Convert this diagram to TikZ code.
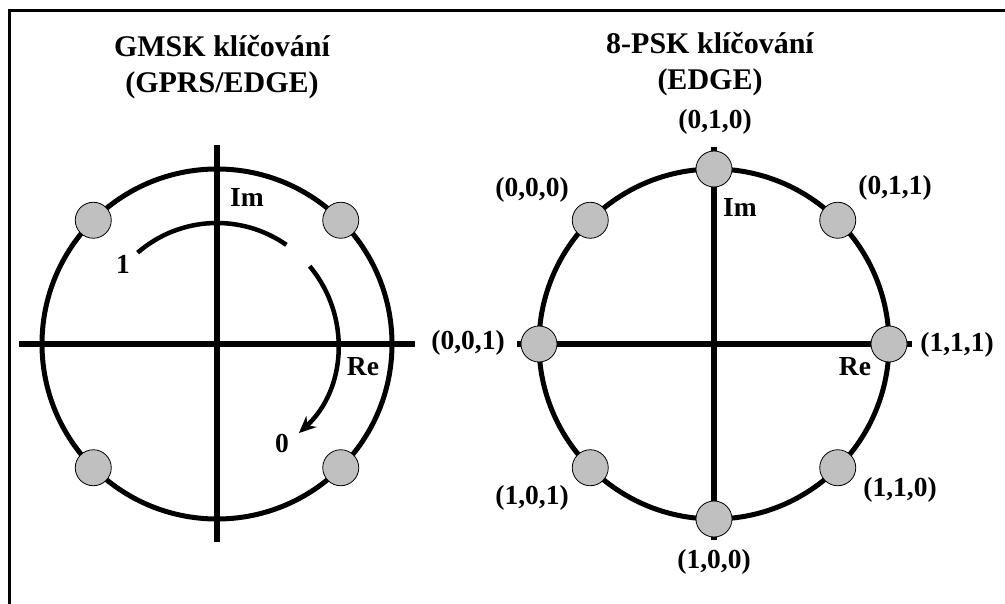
\documentclass[tikz,border=0pt]{standalone}
\usepackage{fontspec}
\setmainfont{Liberation Serif}
\usetikzlibrary{arrows.meta,calc}
\definecolor{dotgray}{RGB}{192,192,192}
\begin{document}
\begin{tikzpicture}[x=1pt,y=-1pt,
  ring/.style={line width=5pt},
  axisline/.style={line width=5.5pt},
  frameline/.style={line width=3pt},
  dot/.style={circle,draw=black,line width=0.8pt,fill=dotgray,minimum size=36pt,inner sep=0pt},
  lbl/.style={font=\bfseries\fontsize{27.5}{27.5}\selectfont,inner sep=0pt},
  ttl/.style={font=\bfseries\fontsize{30}{36}\selectfont,align=center,inner sep=0pt}]
\useasboundingbox (0,0) rectangle (1005,604);
% frame
\coordinate (fb) at (9,610);
\coordinate (ftl) at (9,11);
\coordinate (fr) at (1010,11);
\draw[frameline] (fb) -- (ftl) -- (fr);

% ---------- left diagram ----------
\coordinate (L) at (217,344);
\coordinate (Lw) at (19,344);
\coordinate (Le) at (415,344);
\coordinate (Ln) at (217,145);
\coordinate (Ls) at (217,542);
\node[ttl] (Ltitle) at (222,67) {GMSK klíčování\\(GPRS/EDGE)};
\draw[axisline] (Lw) -- (Le);
\draw[axisline] (Ln) -- (Ls);
\draw[ring] (L) circle[radius=175];
\draw[line width=4.5pt] ($(L)+(-131:121)$) arc[start angle=-131,end angle=-55,radius=121];
\draw[line width=4.5pt,-{Stealth[length=17pt,width=15pt]}] ($(L)+(-40:121)$) arc[start angle=-40,end angle=47.4,radius=121];
\foreach \a/\n in {45/a,135/b,225/c,315/d}
  \node[dot] (L\n) at ($(L)+(\a:175)$) {};
\node[lbl] (Lone) at (123,264) {1};
\node[lbl] (Lzero) at (282,443) {0};
\node[lbl] (Lim) at (247,197) {Im};
\node[lbl] (Lre) at (363,367) {Re};

% ---------- right diagram ----------
\coordinate (R) at (714,344);
\coordinate (Rw) at (517,344);
\coordinate (Re) at (912,344);
\coordinate (Rn) at (714,147);
\coordinate (Rs) at (714,540);
\node[ttl] (Rtitle) at (710,64) {8-PSK klíčování\\(EDGE)};
\draw[axisline] (Rw) -- (Re);
\draw[axisline] (Rn) -- (Rs);
\draw[ring] (R) circle[radius=175];
\foreach \a/\n in {0/e,45/se,90/s,135/sw,180/w,225/nw,270/n,315/ne}
  \node[dot] (R\n) at ($(R)+(\a:175)$) {};
\node[lbl] (l010) at (715,122) {(0,1,0)};
\node[lbl] (l011) at (895,188) {(0,1,1)};
\node[lbl] (l111) at (957,345) {(1,1,1)};
\node[lbl] (l110) at (900,490) {(1,1,0)};
\node[lbl] (l100) at (714,562) {(1,0,0)};
\node[lbl] (l101) at (532,498) {(1,0,1)};
\node[lbl] (l001) at (468,343) {(0,0,1)};
\node[lbl] (l000) at (532,190) {(0,0,0)};
\node[lbl] (Rim) at (740,207) {Im};
\node[lbl] (Rre) at (855,367) {Re};
\end{tikzpicture}
\end{document}
